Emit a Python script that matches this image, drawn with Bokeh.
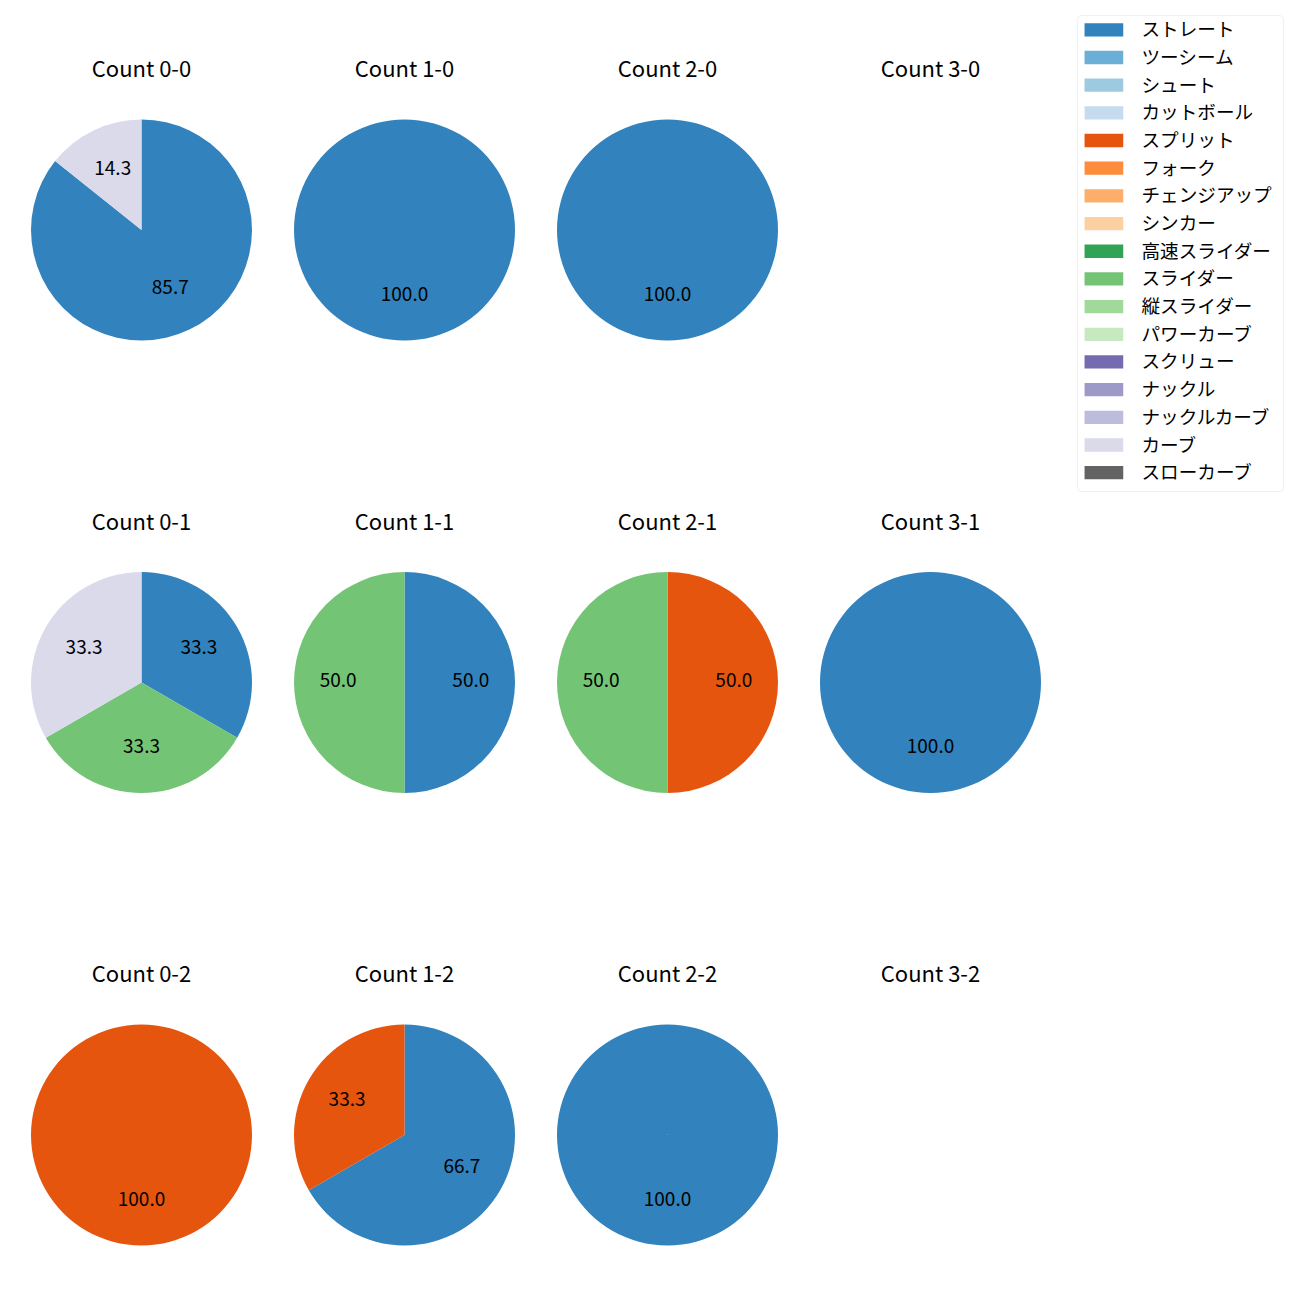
import numpy as np
from bokeh.plotting import figure
from bokeh.models import Range1d, BoxAnnotation, ColumnDataSource
from bokeh.core.properties import value
from bokeh.embed import file_html
from bokeh.resources import INLINE

# ---------------- data ----------------
pitch_types = ["ストレート", "ツーシーム", "シュート", "カットボール", "スプリット", "フォーク",
               "チェンジアップ", "シンカー", "高速スライダー", "スライダー", "縦スライダー",
               "パワーカーブ", "スクリュー", "ナックル", "ナックルカーブ", "カーブ", "スローカーブ"]
pitch_colors = ["#3182bd", "#6baed6", "#9ecae1", "#c6dbef", "#e6550d", "#fd8d3c",
                "#fdae6b", "#fdd0a2", "#31a354", "#74c476", "#a1d99b", "#c7e9c0",
                "#756bb1", "#9e9ac8", "#bcbddc", "#dadaeb", "#636363"]

count_labels = ["0-0", "1-0", "2-0", "3-0",
                "0-1", "1-1", "2-1", "3-1",
                "0-2", "1-2", "2-2", "3-2"]

count_0_0 = {"ストレート": 6, "カーブ": 1}
count_1_0 = {"ストレート": 1}
count_2_0 = {"ストレート": 1}
count_3_0 = {}
count_0_1 = {"ストレート": 1, "スライダー": 1, "カーブ": 1}
count_1_1 = {"ストレート": 1, "スライダー": 1}
count_2_1 = {"スプリット": 1, "スライダー": 1}
count_3_1 = {"ストレート": 1}
count_0_2 = {"スプリット": 1}
count_1_2 = {"ストレート": 2, "スプリット": 1}
count_2_2 = {"ストレート": 1}
count_3_2 = {}

count_data = [count_0_0, count_1_0, count_2_0, count_3_0,
              count_0_1, count_1_1, count_2_1, count_3_1,
              count_0_2, count_1_2, count_2_2, count_3_2]

# ---------------- layout (screen px) ----------------
H = 1284
col_x = [141, 404, 667, 930]
row_y = [229.5, 682, 1134.5]
title_dy = -163
label_shift = 2.5
R = 110.5
FONT = value("Noto Sans CJK JP")

def sy(y):
    return H - y

p = figure(width=H, height=H, x_range=Range1d(0, H), y_range=Range1d(0, H),
           output_backend="svg", toolbar_location=None, min_border=0)
p.axis.visible = False
p.grid.visible = False
p.outline_line_color = None
p.background_fill_color = "white"
p.border_fill_color = "white"

wx, wy, ws, we, wc = [], [], [], [], []
lx, ly, lt = [], [], []
tx, ty, tt = [], [], []
for idx, (lab, d) in enumerate(zip(count_labels, count_data)):
    r, c = divmod(idx, 4)
    cx, cy = col_x[c], row_y[r]
    tx.append(cx); ty.append(sy(cy + title_dy)); tt.append("Count " + lab)
    items = [(pt, d[pt], pitch_colors[i]) for i, pt in enumerate(pitch_types) if pt in d]
    total = sum(n for _, n, _ in items)
    cum = 0.0
    for pt, n, col in items:
        f = n / total
        a0 = np.pi / 2 - 2 * np.pi * cum          # start (clockwise from top)
        span = min(2 * np.pi * f, 2 * np.pi - 1e-4)
        a1 = a0 - span
        wx.append(cx); wy.append(sy(cy)); ws.append(a1); we.append(a0); wc.append(col)
        mid = a0 - np.pi * f
        lx.append(cx + 0.6 * R * np.cos(mid))
        ly.append(sy(cy) + 0.6 * R * np.sin(mid) + label_shift)
        lt.append("%.1f" % (100 * f))
        cum += f

# legend frame (drawn beneath everything)
frame = BoxAnnotation(left=1077, right=1283, top=sy(15), bottom=sy(491),
                      fill_color="white", fill_alpha=0.8, line_color="#cccccc",
                      line_width=1, border_radius=4, level="underlay")
p.add_layout(frame)

p.wedge(x="x", y="y", radius=R, start_angle="s", end_angle="e", fill_color="c",
        line_color=None, direction="anticlock",
        source=ColumnDataSource(dict(x=wx, y=wy, s=ws, e=we, c=wc)))
p.text(x=lx, y=ly, text=lt, text_align="center", text_baseline="middle",
       text_font=FONT, text_font_size="19px", text_color="black")
p.text(x=tx, y=ty, text=tt, text_align="center", text_baseline="middle",
       text_font=FONT, text_font_size="22px", text_color="black")

# ---------------- legend ----------------
leg_y0, leg_dy = 29.3, 27.68
ys = [sy(leg_y0 + i * leg_dy) for i in range(len(pitch_types))]
p.rect(x=[1103.4] * len(pitch_types), y=ys, width=38.7, height=13.3,
       fill_color=pitch_colors, line_color=None)
p.text(x=[1141] * len(pitch_types), y=[v + 2 for v in ys], text=pitch_types, text_align="left",
       text_baseline="middle", text_font=FONT, text_font_size="18.6px", text_color="black")

open("out.html", "w").write(file_html(p, INLINE))
